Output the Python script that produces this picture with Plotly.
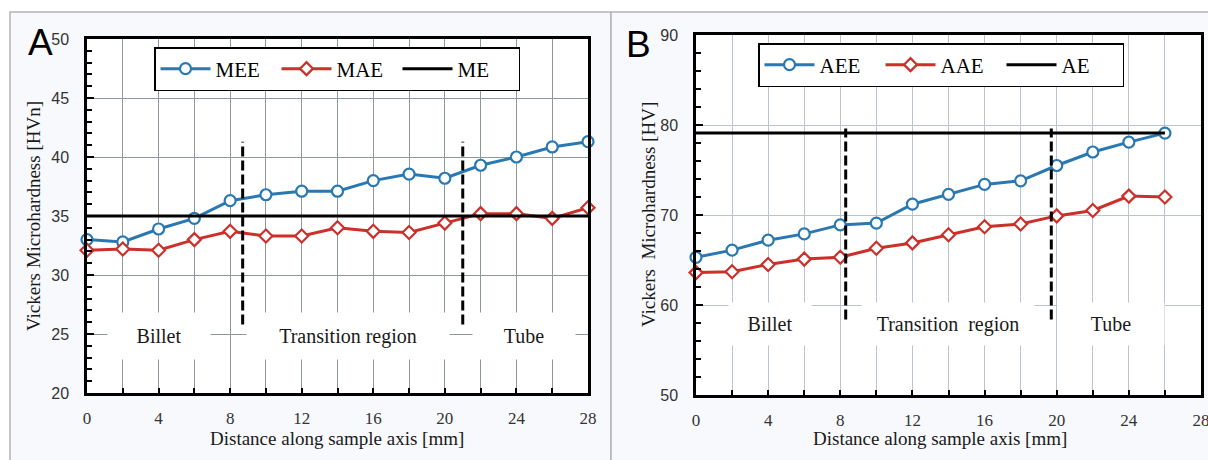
import plotly.graph_objects as go

W, H = 1208, 460

# ---------------- data ----------------
# Panel A (HVn)
dist_a = [0, 2, 4, 6, 8, 10, 12, 14, 16, 18, 20, 22, 24, 26, 28]
mee = [33.0, 32.8, 33.9, 34.8, 36.3, 36.8, 37.1, 37.1, 38.0, 38.55, 38.2, 39.3, 40.0, 40.85, 41.3]
mae = [32.1, 32.2, 32.1, 33.0, 33.7, 33.3, 33.3, 34.0, 33.7, 33.6, 34.4, 35.2, 35.2, 34.8, 35.7]
me_level = 35.0
me_span = [0, 28]
bounds_a = [8.7, 21.0]
bounds_a_y = [25.8, 41.3]

# Panel B (HV)
dist_b = [0, 2, 4, 6, 8, 10, 12, 14, 16, 18, 20, 22, 24, 26]
aee = [65.3, 66.1, 67.2, 67.9, 68.9, 69.1, 71.2, 72.3, 73.4, 73.8, 75.5, 77.0, 78.1, 79.1]
aae = [63.6, 63.7, 64.5, 65.1, 65.3, 66.3, 66.9, 67.8, 68.7, 69.0, 69.9, 70.5, 72.1, 72.0]
ae_level = 79.1
ae_span = [0, 26]
bounds_b = [8.3, 19.7]
bounds_b_y = [58.4, 79.6]

region_names = ["Billet", "Transition region", "Tube"]
region_names_b = ["Billet", "Transition  region", "Tube"]
region_x_a = [4.0, 14.6, 24.4]
region_y_a = 24.8
region_x_b = [4.1, 14.0, 23.0]
region_y_b = 57.9

BLUE = "#2a78b2"
RED = "#cb302b"
SERIF = "Liberation Serif"
SANS = "Liberation Sans"


def px(x):
    return x / W


def py(y):
    return 1 - y / H


fig = go.Figure()


def add_series(x, y, name, color, symbol, msize, xa, ya, legend):
    fig.add_trace(go.Scatter(
        x=x, y=y, name=name, mode="lines+markers", xaxis=xa, yaxis=ya,
        legend=legend, cliponaxis=False,
        line=dict(color=color, width=3),
        marker=dict(symbol=symbol, size=msize, color="white",
                    line=dict(color=color, width=2.2)),
    ))


def add_level(span, level, name, xa, ya, legend):
    fig.add_trace(go.Scatter(
        x=span, y=[level] * len(span), name=name, mode="lines",
        xaxis=xa, yaxis=ya, legend=legend, cliponaxis=False,
        line=dict(color="black", width=3),
    ))


add_series(dist_a, mee, "MEE", BLUE, "circle", 11, "x", "y", "legend")
add_series(dist_a, mae, "MAE", RED, "diamond", 10, "x", "y", "legend")
add_level(me_span, me_level, "ME", "x", "y", "legend")

add_series(dist_b, aee, "AEE", BLUE, "circle", 11, "x2", "y2", "legend2")
add_series(dist_b, aae, "AAE", RED, "diamond", 10, "x2", "y2", "legend2")
add_level(ae_span, ae_level, "AE", "x2", "y2", "legend2")

shapes = []
# panel backgrounds and frames
shapes.append(dict(type="rect", xref="paper", yref="paper", layer="below",
                   x0=px(10), x1=px(611), y0=py(462), y1=py(12),
                   fillcolor="#f8f9fc", line=dict(color="#b4b4b4", width=1.5)))
shapes.append(dict(type="rect", xref="paper", yref="paper", layer="below",
                   x0=px(611), x1=px(1212), y0=py(462), y1=py(12),
                   fillcolor="#f8f9fc", line=dict(color="#b4b4b4", width=1.5)))
for xr, yr in (("x domain", "y domain"), ("x2 domain", "y2 domain")):
    shapes.append(dict(type="rect", xref=xr, yref=yr, layer="below",
                       x0=0, x1=1, y0=0, y1=1, fillcolor="white",
                       line=dict(width=0)))

# dashed region boundaries
for bx in bounds_a:
    shapes.append(dict(type="line", xref="x", yref="y", x0=bx, x1=bx,
                       y0=bounds_a_y[0], y1=bounds_a_y[1],
                       line=dict(color="black", width=3, dash="10px,4px")))
for bx in bounds_b:
    shapes.append(dict(type="line", xref="x2", yref="y2", x0=bx, x1=bx,
                       y0=bounds_b_y[0], y1=bounds_b_y[1],
                       line=dict(color="black", width=3, dash="10px,4px")))

annotations = []
# region labels on white boxes
box_w_a = [100, 200, 100]
for name, x, bw in zip(region_names, region_x_a, box_w_a):
    annotations.append(dict(x=x, y=region_y_a, xref="x", yref="y", text=name,
                            showarrow=False, width=bw, height=44,
                            bgcolor="white",
                            font=dict(family=SERIF, size=20, color="#1a1a1a")))
box_w_b = [80, 170, 104]
for name, x, bw in zip(region_names_b, region_x_b, box_w_b):
    annotations.append(dict(x=x, y=region_y_b, xref="x2", yref="y2", text=name,
                            showarrow=False, width=bw, height=40,
                            bgcolor="white",
                            font=dict(family=SERIF, size=20, color="#1a1a1a")))

# panel letters
annotations.append(dict(x=px(26), y=py(42), xref="paper", yref="paper", text="A",
                        showarrow=False, xanchor="left", yanchor="middle",
                        font=dict(family=SANS, size=37, color="black")))
annotations.append(dict(x=px(624), y=py(45), xref="paper", yref="paper", text="B",
                        showarrow=False, xanchor="left", yanchor="middle",
                        font=dict(family=SANS, size=37, color="black")))

# axis titles
title_font = dict(family=SERIF, size=19, color="#1a1a1a")
centered = dict(xref="paper", yref="paper", showarrow=False,
                xanchor="center", yanchor="middle", font=title_font)
annotations.append(dict(centered, x=px(34), y=py(216), textangle=-90,
                        text="Vickers Microhardness [HVn]"))
annotations.append(dict(centered, x=px(648), y=py(215), textangle=-90,
                        text="Vickers  Microhardness [HV]"))
annotations.append(dict(centered, x=px(337), y=py(438),
                        text="Distance along sample axis [mm]"))
annotations.append(dict(centered, x=px(940), y=py(438),
                        text="Distance along sample axis [mm]"))


def xaxis(domain, grid):
    return dict(domain=domain, range=[0, 28], dtick=4, tick0=0,
                showgrid=True, gridcolor=grid, gridwidth=1,
                showline=True, linecolor="black", linewidth=2.5, mirror=True,
                ticks="inside", ticklen=5, tickwidth=2, tickcolor="black",
                minor=dict(dtick=2, ticks="inside", ticklen=5, tickwidth=2,
                           tickcolor="black", showgrid=True, gridcolor=grid,
                           gridwidth=1),
                tickfont=dict(family=SERIF, size=17, color="#333333"),
                ticklabelstandoff=8, ticklabeloverflow="allow",
                zeroline=False, fixedrange=True, automargin=False)


def yaxis(domain, rng, dtick, mdtick, grid, anchor):
    return dict(domain=domain, range=rng, dtick=dtick, anchor=anchor,
                showgrid=True, gridcolor=grid, gridwidth=1,
                showline=True, linecolor="black", linewidth=2.5, mirror=True,
                ticks="inside", ticklen=7, tickwidth=2, tickcolor="black",
                minor=dict(dtick=mdtick, ticks="inside", ticklen=5, tickwidth=2,
                           tickcolor="black", showgrid=False),
                tickfont=dict(family=SANS, size=16, color="#333333"),
                ticklabelstandoff=12, ticklabeloverflow="allow",
                zeroline=False, fixedrange=True, automargin=False)


legend_common = dict(orientation="h", bgcolor="white", bordercolor="black",
                     borderwidth=1.5, xanchor="left", yanchor="top",
                     font=dict(family=SERIF, size=21, color="black"),
                     itemwidth=50, entrywidth=56, tracegroupgap=0)

fig.update_layout(
    width=W, height=H, margin=dict(l=0, r=0, t=0, b=0, autoexpand=False),
    paper_bgcolor="white", plot_bgcolor="rgba(0,0,0,0)",
    xaxis=xaxis([px(87), px(588)], "#8e979e"),
    yaxis=yaxis([py(393), py(39)], [20, 50], 5, 1, "#8e979e", "x"),
    xaxis2=dict(xaxis([px(696), px(1201)], "#b9c4cc"), anchor="y2"),
    yaxis2=yaxis([py(395), py(35)], [50, 90], 10, 2, "#b9c4cc", "x2"),
    legend=dict(legend_common, x=px(154), y=py(47)),
    legend2=dict(legend_common, x=px(758), y=py(43)),
    shapes=shapes, annotations=annotations,
)

fig.write_html("out.html")
